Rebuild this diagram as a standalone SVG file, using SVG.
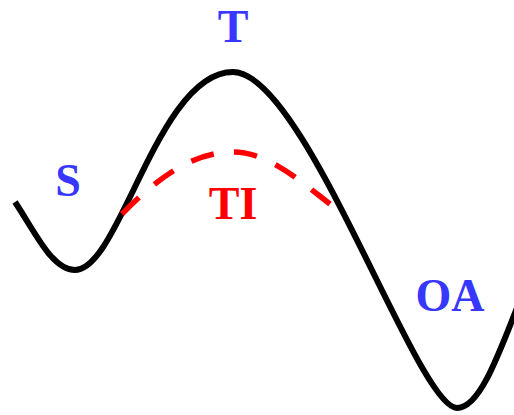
<svg xmlns="http://www.w3.org/2000/svg" width="514" height="415" viewBox="0 0 514 415">
<style>
.lbl{font-family:"Liberation Serif","Times New Roman",serif;font-weight:bold;font-size:46px;text-anchor:middle}
.blue{fill:#3737ff}
.red{fill:#ff0000}
.curve{fill:none;stroke:#000;stroke-width:6;stroke-linecap:butt}
.dash{fill:none;stroke:#ff0000;stroke-width:5.5;stroke-dasharray:9.7 8.36}
</style>
<rect width="514" height="415" fill="#fff"/>
<g id="connectors">
<path class="curve" d="M15,202 C35,232 52,270 75,270 C120,270 158,72 233,72 C305,72 417,408 457,408 C478,408 495,365 520,300"/>
<path class="dash" pathLength="100" d="M122,214 C160,175 195,152 233,152 C268,152 300,181 330,204"/>
</g>
<g id="S"><text class="lbl blue" x="68" y="196">S</text></g>
<g id="T"><text class="lbl blue" x="233" y="42">T</text></g>
<g id="TI"><text class="lbl red" x="233" y="219">TI</text></g>
<g id="OA"><text class="lbl blue" x="450" y="311">OA</text></g>
</svg>
